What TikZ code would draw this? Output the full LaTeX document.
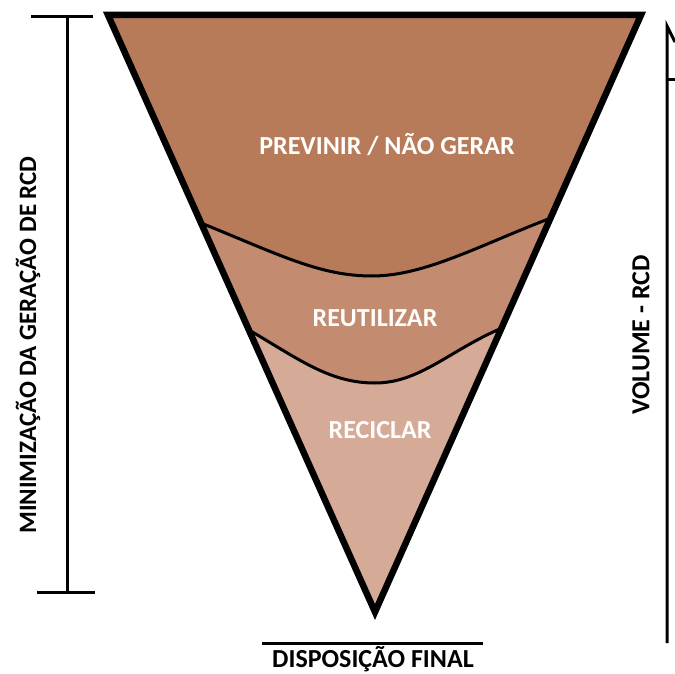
\documentclass[tikz,border=0pt]{standalone}
\usepackage{fontspec}
\setmainfont{Carlito}
\usetikzlibrary{positioning}

\definecolor{prevcol}{RGB}{184,123,90}
\definecolor{reutcol}{RGB}{195,139,112}
\definecolor{reciccol}{RGB}{213,170,150}

\begin{document}
\begin{tikzpicture}[x=1pt, y=-1pt,
                    label/.style = {font=\bfseries\fontsize{26}{26}\selectfont, inner sep=0pt},
                    inside/.style = {label, text=white},
                    bound/.style = {line width=3pt},
                    bracket/.style = {line width=3pt}]
    \useasboundingbox (0,0) rectangle (675,674);

    % funnel corners
    \coordinate (tl) at (108,15);
    \coordinate (tr) at (641,15);
    \coordinate (apex) at (375,612);

    % layers
    \begin{scope}
        \clip (tl) -- (tr) -- (apex) -- cycle;
        \fill[reciccol] (0,0) rectangle (675,674);
        \fill[reutcol] (0,330) -- (249,330) .. controls (300,360) and (330,383) .. (375,383)
            .. controls (420,383) and (450,350) .. (502,328) -- (675,328) -- (675,0) -- (0,0) -- cycle;
        \fill[prevcol] (0,223) -- (201,223) .. controls (280,255) and (320,276) .. (372,276)
            .. controls (425,276) and (480,245) .. (551,218) -- (675,218) -- (675,0) -- (0,0) -- cycle;
    \end{scope}
    \draw[bound] (201,223) .. controls (280,255) and (320,276) .. (372,276)
        .. controls (425,276) and (480,245) .. (551,218);
    \draw[bound] (249,330) .. controls (300,360) and (330,383) .. (375,383)
        .. controls (420,383) and (450,350) .. (502,328);
    \draw[line width=6.5pt, line join=miter] (tl) -- (tr) -- (apex) -- cycle;

    \node[inside] (prev) at (387,145) {PREVINIR / NÃO GERAR};
    \node[inside] (reut) at (375,318) {REUTILIZAR};
    \node[inside] (recic) at (380,430) {RECICLAR};

    % left scale
    \draw[bracket] (31,17) -- (93,17);
    \draw[bracket] (67,17) -- (67,592);
    \draw[bracket] (37,592) -- (95,592);
    \node[label, font=\bfseries\fontsize{25}{25}\selectfont, rotate=90] (minim) at (28,345) {MINIMIZAÇÃO DA GERAÇÃO DE RCD};

    % right scale
    \draw[bracket] (675,42) -- (667,26) -- (667,643);
    \draw[bracket] (667,80) -- (675,80);
    \node[label, rotate=90] (vol) at (641,335) {VOLUME - RCD};

    % bottom
    \draw[bracket] (262,643) -- (483,643);
    \node[label, anchor=base] (disp) at (373,667) {DISPOSIÇÃO FINAL};
\end{tikzpicture}
\end{document}
